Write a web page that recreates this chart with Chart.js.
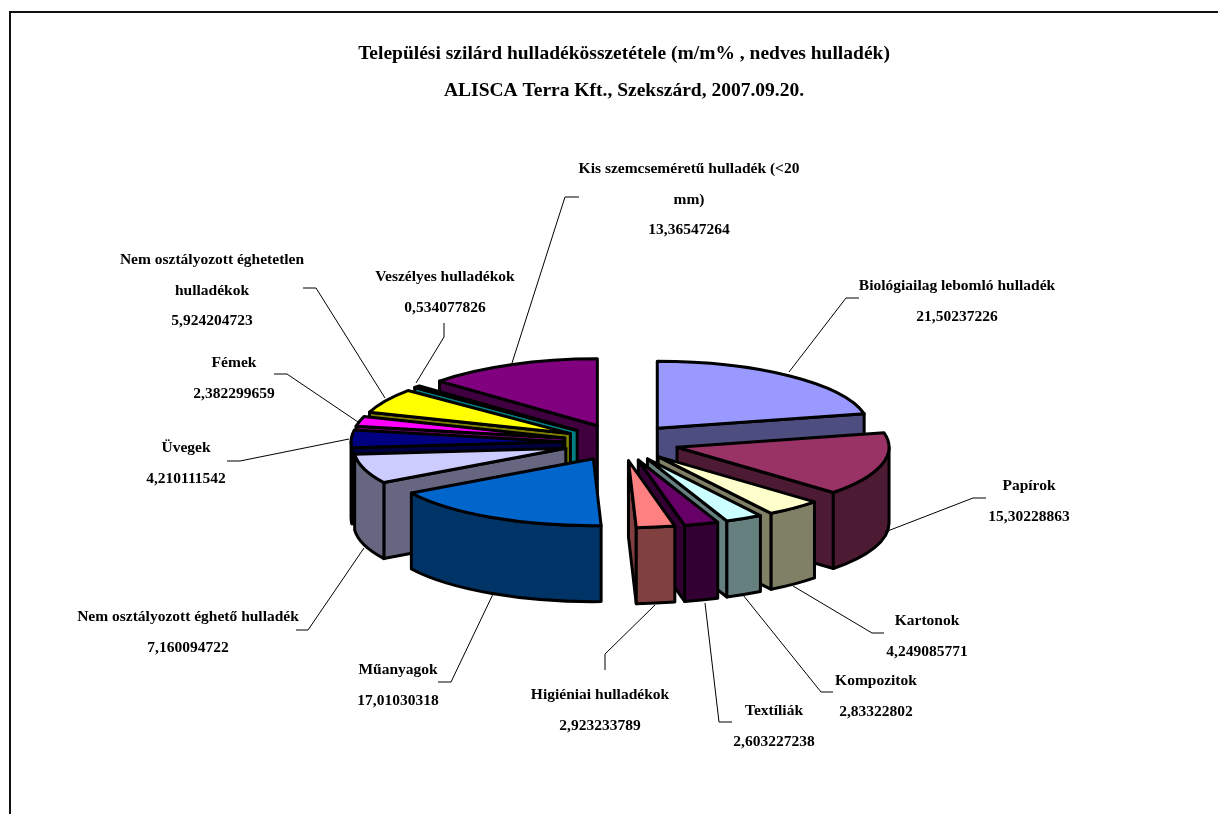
<!DOCTYPE html>
<html>
<head>
<meta charset="utf-8">
<title>Települési szilárd hulladék</title>
<script src="https://cdn.jsdelivr.net/npm/chart.js@4/dist/chart.umd.min.js"></script>
<style>
  html, body { margin: 0; padding: 0; background: #fff; overflow: hidden; }
  #frame { position: absolute; left: 9px; top: 11px; right: 0; bottom: 0; border-left: 2px solid #111; border-top: 2px solid #111; }
  #pie { position: absolute; left: 0; top: 0; }
</style>
</head>
<body>
<div id="frame"></div>
<canvas id="pie" width="1218" height="814"></canvas>
<script>
const titleLines = [
  "Települési szilárd hulladékösszetétele (m/m% , nedves hulladék)",
  "ALISCA Terra Kft., Szekszárd, 2007.09.20."
];
const categories = [
  "Biológiailag lebomló hulladék", "Papírok", "Kartonok", "Kompozitok", "Textíliák",
  "Higiéniai hulladékok", "Műanyagok", "Nem osztályozott éghető hulladék", "Üvegek", "Fémek",
  "Nem osztályozott éghetetlen hulladékok", "Veszélyes hulladékok", "Kis szemcseméretű hulladék (<20 mm)"
];
const shares = [
  21.50237226, 15.30228863, 4.249085771, 2.83322802, 2.603227238,
  2.923233789, 17.01030318, 7.160094722, 4.210111542, 2.382299659,
  5.924204723, 0.534077826, 13.36547264
];
const topColors = [
  "#9999ff", "#993366", "#ffffcc", "#ccffff", "#660066", "#ff8080", "#0066cc",
  "#ccccff", "#000080", "#ff00ff", "#ffff00", "#00ffff", "#800080"
];
const sideColors = [
  "#4d4d80", "#4d1a33", "#808066", "#668080", "#330033", "#804040", "#003366",
  "#666680", "#000040", "#800080", "#808000", "#008080", "#400040"
];

// label centre x, first line y
const labelSpots = [
  [957, 286], [1029, 486], [927, 621], [876, 681], [774, 711], [600, 695], [398, 670],
  [188, 617], [186, 448], [234, 363], [212, 260], [445, 277], [689, 169]
];
// leader lines, slice end first
const leaders = [
  [[789, 372], [846, 298], [859, 298]],
  [[885, 532], [973, 498], [986, 498]],
  [[793, 586], [872, 633], [884, 633]],
  [[743, 595], [821, 692], [833, 692]],
  [[705, 603], [719, 722], [732, 722]],
  [[655, 605], [605, 654], [605, 670]],
  [[494, 592], [451, 682], [438, 682]],
  [[364, 548], [308, 630], [296, 630]],
  [[349, 439], [240, 461], [227, 461]],
  [[358, 422], [287, 374], [274, 374]],
  [[385, 398], [316, 288], [303, 288]],
  [[416, 383], [444, 337], [444, 323]],
  [[512, 363], [565, 197], [579, 197]]
];

const SQUASH = 0.316;   // flattening of the pie
const DEPTH = 76;       // height of the walls
const EXPLODE = 58;     // how far slices are pulled out
const NUDGE_X = -3;     // pie sits a bit left of the title centre
const FONT = "Liberation Serif";

// every slice is pulled out, flattened and given walls, back ones first
const pie3d = {
  id: "pie3d",
  beforeDatasetsDraw(chart) {
    const ctx = chart.ctx;
    const arcs = chart.getDatasetMeta(0).data;
    const order = arcs.map((a, i) => i).sort((p, q) => {
      return Math.sin(mid(arcs[p])) - Math.sin(mid(arcs[q]));
    });
    order.forEach(i => drawSlice(ctx, arcs[i], sideColors[i]));
    return false;
  },
  afterDraw(chart) {
    const ctx = chart.ctx;
    ctx.save();
    ctx.strokeStyle = "#000";
    ctx.lineWidth = 1;
    leaders.forEach(line => {
      ctx.beginPath();
      line.forEach((p, k) => k ? ctx.lineTo(p[0], p[1]) : ctx.moveTo(p[0], p[1]));
      ctx.stroke();
    });
    ctx.font = "bold 15.5px '" + FONT + "'";
    ctx.fillStyle = "#000";
    ctx.textAlign = "center";
    ctx.textBaseline = "middle";
    categories.forEach((name, i) => {
      const lines = wrap(ctx, name, 225);
      lines.push(String(shares[i]).replace(".", ","));
      lines.forEach((t, k) => ctx.fillText(t, labelSpots[i][0], labelSpots[i][1] + k * 30.5));
    });
    ctx.restore();
  }
};

function mid(a) { return (a.startAngle + a.endAngle) / 2; }

function wrap(ctx, text, maxW) {
  const out = [];
  let cur = "";
  text.split(" ").forEach(w => {
    const next = cur ? cur + " " + w : w;
    if (ctx.measureText(next).width > maxW && cur) { out.push(cur); cur = w; }
    else cur = next;
  });
  out.push(cur);
  return out;
}

function drawSlice(ctx, arc, side) {
  const rx = arc.outerRadius, ry = rx * SQUASH;
  const m = mid(arc);
  const dx = Math.cos(m) * EXPLODE + NUDGE_X, dy = Math.sin(m) * EXPLODE * SQUASH;
  const ax = arc.x + dx, ay = arc.y + dy;
  const s = arc.startAngle, e = arc.endAngle;

  ctx.save();
  ctx.lineWidth = 3;
  ctx.lineJoin = "round";
  ctx.strokeStyle = "#000";

  // flat wall that looks towards the viewer
  const wallAngle = e < Math.PI / 2 ? e : (s > Math.PI / 2 ? s : null);
  if (wallAngle !== null) {
    const px = ax + Math.cos(wallAngle) * rx, py = ay + Math.sin(wallAngle) * ry;
    ctx.beginPath();
    ctx.moveTo(ax, ay);
    ctx.lineTo(px, py);
    ctx.lineTo(px, py + DEPTH);
    ctx.lineTo(ax, ay + DEPTH);
    ctx.closePath();
    ctx.fillStyle = side;
    ctx.fill();
    ctx.stroke();
  }

  // rim wall, only the near half of the ellipse
  const ws = Math.max(s, 0), we = Math.min(e, Math.PI);
  if (ws < we) {
    ctx.beginPath();
    ctx.ellipse(ax, ay, rx, ry, 0, ws, we);
    ctx.ellipse(ax, ay + DEPTH, rx, ry, 0, we, ws, true);
    ctx.closePath();
    ctx.fillStyle = side;
    ctx.fill();
    ctx.stroke();
  }

  // top face comes from the library's arc element
  ctx.save();
  ctx.translate(dx, arc.y + dy);
  ctx.scale(1, SQUASH);
  ctx.translate(0, -arc.y);
  arc.draw(ctx);
  ctx.restore();

  ctx.beginPath();
  ctx.moveTo(ax, ay);
  ctx.ellipse(ax, ay, rx, ry, 0, s, e);
  ctx.closePath();
  ctx.stroke();
  ctx.restore();
}

new Chart(document.getElementById("pie").getContext("2d"), {
  type: "pie",
  data: {
    labels: categories,
    datasets: [{
      data: shares,
      backgroundColor: topColors,
      borderWidth: 0
    }]
  },
  options: {
    responsive: false,
    animation: false,
    events: [],
    radius: 212,
    layout: { padding: { left: 30, right: 0, top: 0, bottom: 38 } },
    plugins: {
      legend: { display: false },
      tooltip: { enabled: false },
      title: {
        display: true,
        text: titleLines,
        color: "#000",
        font: { family: FONT, size: 19.5, weight: "bold", lineHeight: 1.9 },
        padding: { top: 35, bottom: 0 }
      }
    }
  },
  plugins: [pie3d]
});
</script>
</body>
</html>
